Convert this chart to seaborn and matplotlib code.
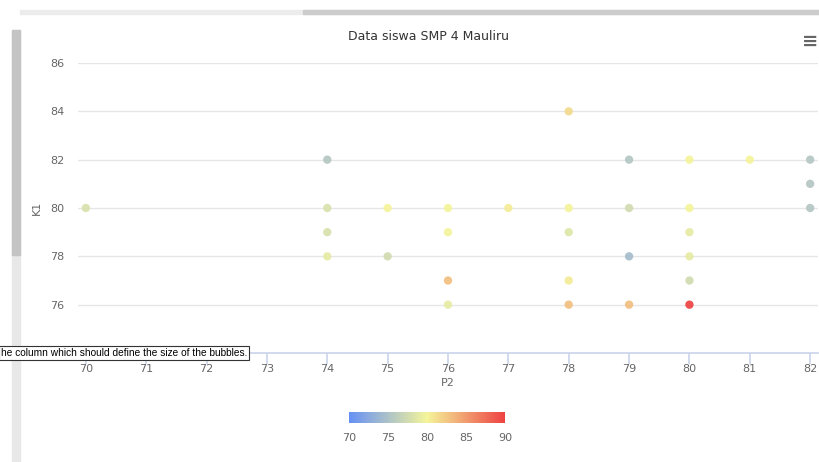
import matplotlib
matplotlib.use("Agg")
import matplotlib.pyplot as plt
import matplotlib.patches as mpatches
from matplotlib.colors import LinearSegmentedColormap, Normalize
import matplotlib.cm as cm
import seaborn as sns
import pandas as pd

# data
p2 = [70, 74, 74, 74, 74, 75, 75, 76, 76, 76, 76, 77, 78, 78, 78, 78, 78,
      79, 79, 79, 79, 80, 80, 80, 80, 80, 80, 81, 82, 82, 82]
k1 = [80, 82, 80, 79, 78, 80, 78, 80, 79, 77, 76, 80, 84, 80, 79, 77, 76,
      82, 80, 78, 76, 82, 80, 79, 78, 77, 76, 82, 82, 81, 80]
nilai = [78, 75.5, 78, 78, 79, 80, 77.5, 80, 80, 83, 79, 80.5, 81.5, 80, 78.5, 80.5, 83,
         75.5, 77.5, 74.5, 83, 80, 80, 79, 79, 77.5, 90, 80, 75.5, 75.5, 75.5]
x_ticks = list(range(70, 83))
y_ticks = [76, 78, 80, 82, 84, 86]
cbar_ticks = [70, 75, 80, 85, 90]

df = pd.DataFrame({"P2": p2, "K1": k1, "nilai": nilai})

sns.set_theme(style="white")
plt.rcParams['font.family'] = ['DejaVu Sans']

cmap = LinearSegmentedColormap.from_list("ca", ["#6690F5", "#F4F59A", "#EE4242"])
norm = Normalize(70, 90)

W, H = 819, 462
fig = plt.figure(figsize=(W / 100, H / 100), dpi=100)

# browser chrome
fig.patches.append(mpatches.Rectangle((12 / W, 0), 8 / W, 1 - 30 / H, transform=fig.transFigure,
                                      color="#e8e8e8", zorder=0))
fig.patches.append(mpatches.Rectangle((12 / W, 1 - 255 / H), 8 / W, 225 / H, transform=fig.transFigure,
                                      color="#c4c4c4", zorder=0))
fig.patches.append(mpatches.Rectangle((20 / W, 1 - 14 / H), 1 - 20 / W, 4 / H, transform=fig.transFigure,
                                      color="#ececec", zorder=0))
fig.patches.append(mpatches.Rectangle((303 / W, 1 - 14 / H), 1 - 303 / W, 4 / H, transform=fig.transFigure,
                                      color="#cccccc", zorder=0))

ax = fig.add_axes([78 / W, 1 - 353 / H, (818 - 78) / W, (353 - 63) / H])
sns.scatterplot(data=df, x="P2", y="K1", hue="nilai", palette=cmap, hue_norm=(70, 90),
                s=36, linewidth=0, legend=False, ax=ax, zorder=3, alpha=0.92)

ax.set_xlim(69.87, 82.13)
ax.set_ylim(74, 86)
ax.set_xticks(x_ticks)
ax.set_yticks(y_ticks)
for s in ["top", "right", "left"]:
    ax.spines[s].set_visible(False)
ax.spines["bottom"].set_color("#ccd6eb")
ax.grid(axis="y", color="#e6e6e6", linewidth=1)
ax.set_axisbelow(True)
ax.tick_params(axis="x", length=8, color="#ccd6eb", labelsize=8, labelcolor="#666666", pad=0, bottom=True)
ax.tick_params(axis="y", length=0, labelsize=8, labelcolor="#666666", pad=10)
ax.set_xlabel("P2", fontsize=8, color="#666666", labelpad=3)
ax.set_ylabel("K1", fontsize=8, color="#666666", labelpad=6)

fig.text(428 / W, 1 - 36 / H, "Data siswa SMP 4 Mauliru", ha="center", va="center",
         fontsize=9, color="#333333")
fig.text(810 / W, 1 - 41 / H, "≡", ha="center", va="center", fontsize=14,
         color="#666666", fontweight="bold")

# color axis
cax = fig.add_axes([349 / W, 1 - 423 / H, 156 / W, 11 / H])
cb = fig.colorbar(cm.ScalarMappable(norm=norm, cmap=cmap), cax=cax, orientation="horizontal")
cb.set_ticks(cbar_ticks)
cb.outline.set_visible(False)
cax.tick_params(length=0, labelsize=8, labelcolor="#666666", pad=7)

# tooltip
fig.text(1 / W, 1 - 353 / H, "he column which should define the size of the bubbles.",
         ha="left", va="center", fontsize=7.3, color="black", family="Liberation Sans",
         bbox=dict(boxstyle="square,pad=0.15", fc="white", ec="#333333", lw=0.8), zorder=10)

fig.savefig("out.png", dpi=100)
